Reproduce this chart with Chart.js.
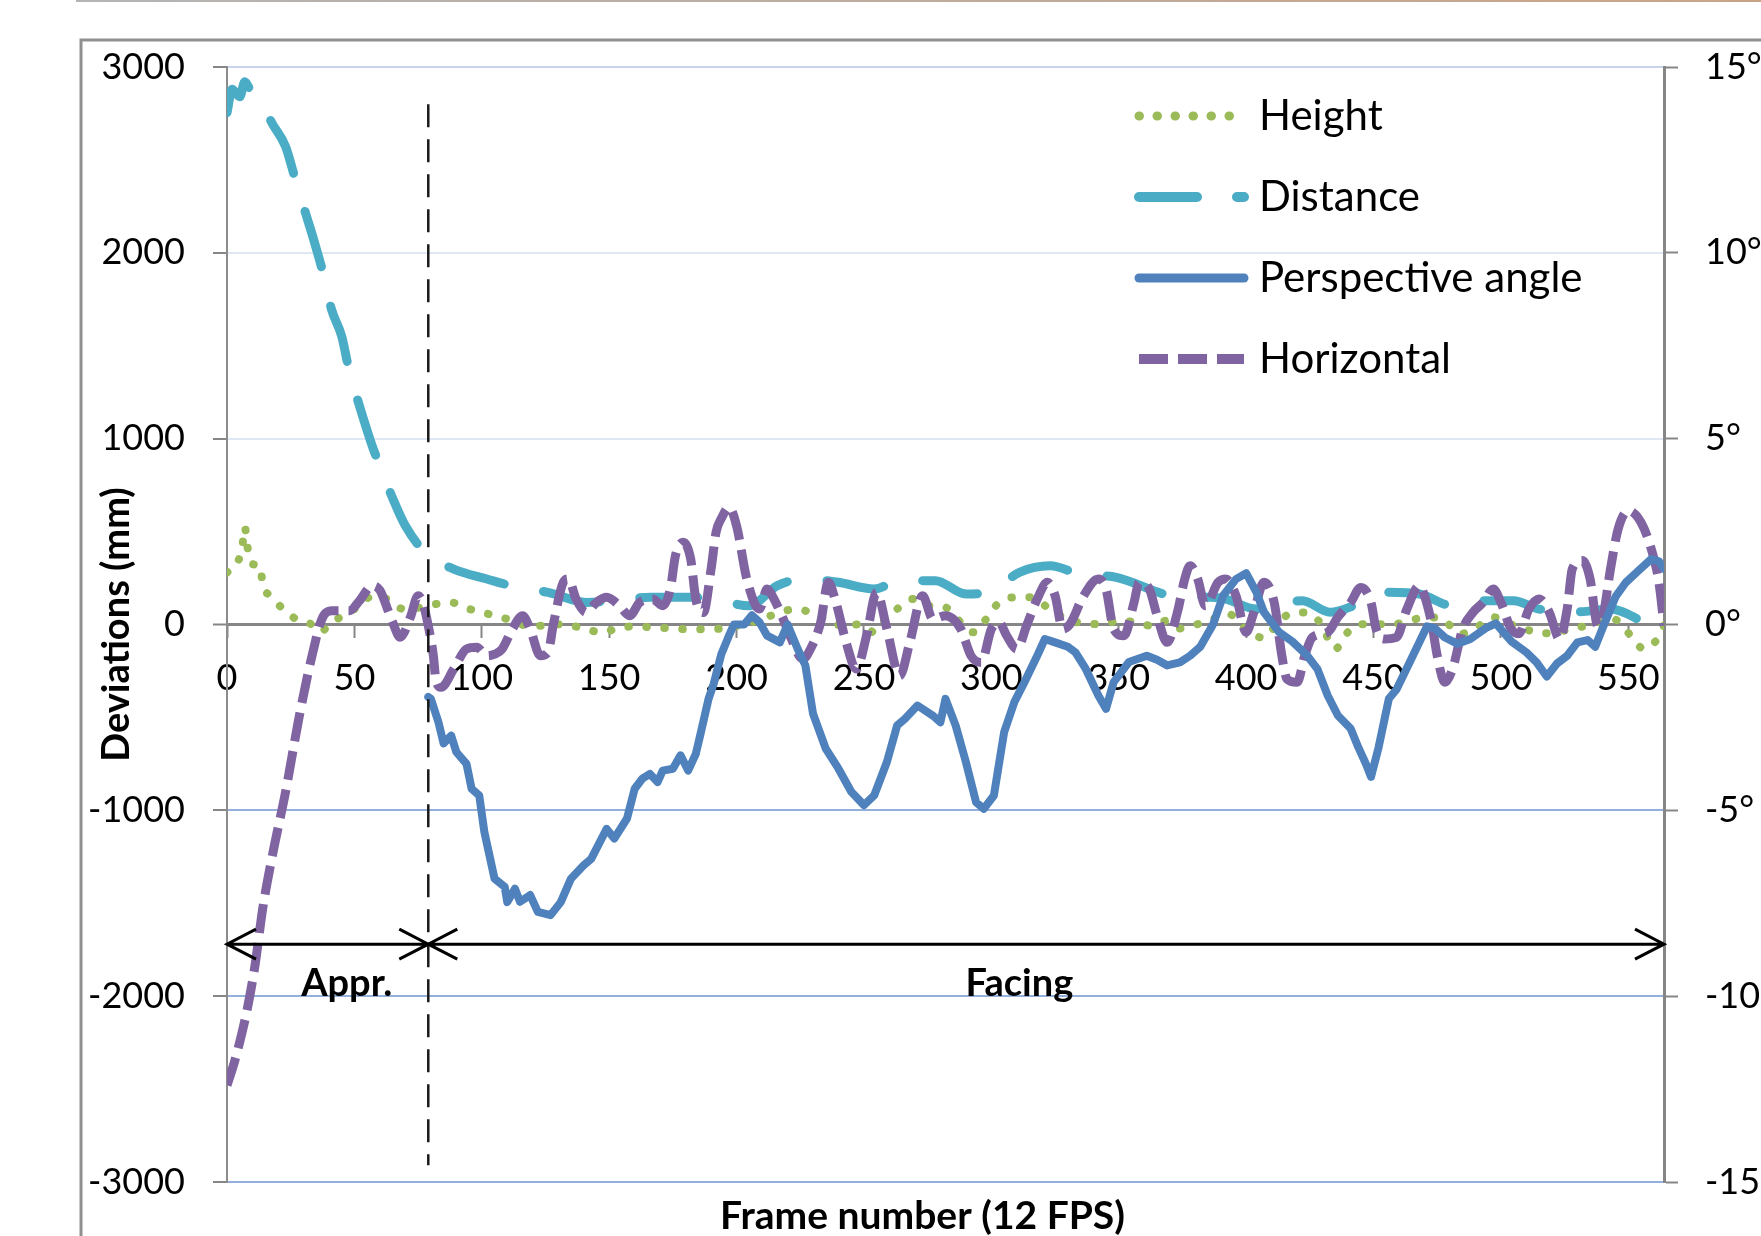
<!DOCTYPE html>
<html lang="en">
<head>
  <meta charset="UTF-8">
  <title>Deviations per frame</title>
  <style>
    * {
      margin: 0;
      padding: 0;
      box-sizing: border-box;
    }

    body {
      background: #fff;
      overflow: hidden;
    }

    #wrap {
      width: 1761px;
      height: 1236px;
    }
  </style>
  <script src="https://cdn.jsdelivr.net/npm/chart.js"></script>
</head>
<body>
  <div id="wrap">
    <canvas id="devChart" width="1761" height="1236"></canvas>
  </div>

  <script>
    // values (frame number -> value)
    const heightFrames = [0,4,6,7,8,10,13,14,17,22,27,33,37,40,46,52,56,63,69,76,82,88,93,99,105,112,118,124,131,137,142,148,154,161,167,174,180,187,192,203,212,218,224,230,236,242,249,254,258,263,269,275,282,288,293,298,303,309,316,322,328,334,344,350,357,363,369,374,381,387,393,401,407,412,417,423,429,435,440,445,458,464,471,477,484,490,497,504,513,516,523,528,534,544,551,556,561,564];
    const heightMm = [280,330,420,524,420,325,316,217,155,84,30,2,-40,2,50,101,146,137,84,92,110,119,92,69,48,21,-7,-7,2,-11,-30,-42,-15,-11,-15,-21,-25,-25,-24,2,40,70,83,57,20,-7,2,-42,20,83,137,101,92,11,-42,30,119,146,146,92,40,11,2,21,11,-7,21,-21,2,30,57,-40,-72,0,57,65,11,-131,-40,2,2,21,39,30,-51,-20,39,0,-39,-48,-39,-20,-7,30,-60,-131,-85,-7];

    const distFrames = [0,2,5,7,9,12,18,23,27,31,34,38,41,45,48,52,57,60,65,70,78,89,102,114,126,141,155,166,185,191,205,216,227,240,254,264,278,290,299,311,323,335,349,371,386,392,404,422,433,444,456,468,481,493,505,515,531,543,557];
    const distMm = [2754,2880,2840,2921,2880,2840,2690,2572,2385,2206,2072,1875,1696,1552,1364,1176,961,853,680,531,385,298,245,200,173,119,135,146,146,137,101,209,245,227,191,236,236,164,173,281,316,271,254,155,146,137,83,128,66,110,173,164,101,128,128,83,69,83,8];

    const perspFrames = [79,80,83,85,88,90,94,96,99,101,105,109,110,113,115,119,122,127,131,135,140,143,149,152,157,160,163,166,169,171,175,178,181,184,186,189,191,194,197,199,203,206,209,212,217,220,224,227,230,235,240,245,250,254,259,263,266,271,277,280,282,286,290,294,297,301,305,309,313,318,321,325,330,333,337,342,345,348,354,361,365,369,374,378,382,387,391,396,400,404,407,413,418,424,428,432,436,441,444,447,449,452,456,459,465,471,474,478,483,488,494,498,504,510,514,518,522,526,530,534,537,540,545,549,554,559,562,564];
    const perspDeg = [-1.95,-2.0,-2.63,-3.2,-2.99,-3.43,-3.75,-4.42,-4.6,-5.58,-6.84,-7.06,-7.47,-7.11,-7.46,-7.28,-7.73,-7.82,-7.47,-6.84,-6.48,-6.3,-5.5,-5.76,-5.22,-4.42,-4.15,-4.02,-4.24,-3.93,-3.88,-3.52,-3.93,-3.48,-2.9,-2.0,-1.6,-0.8,-0.3,0.0,0.0,0.25,0.06,-0.3,-0.48,0.0,-0.66,-1.1,-2.4,-3.34,-3.88,-4.5,-4.86,-4.6,-3.7,-2.72,-2.54,-2.18,-2.45,-2.63,-2.0,-2.72,-3.7,-4.78,-4.96,-4.6,-2.9,-2.09,-1.55,-0.84,-0.39,-0.48,-0.6,-0.75,-1.19,-1.91,-2.27,-1.55,-1.01,-0.84,-0.95,-1.1,-1.02,-0.84,-0.6,0.0,0.78,1.22,1.38,0.87,0.33,-0.21,-0.45,-0.84,-1.2,-1.91,-2.45,-2.8,-3.3,-3.75,-4.1,-3.3,-2.0,-1.75,-0.9,-0.05,-0.1,-0.35,-0.52,-0.39,-0.1,0.03,-0.45,-0.75,-1.02,-1.4,-1.05,-0.84,-0.48,-0.42,-0.6,-0.08,0.75,1.13,1.45,1.76,1.7,1.5];

    const horzFrames = [0,3,6,8,11,14,18,23,28,32,34,36,38,41,48,52,57,60,63,65,68,72,75,77,79,81,82,84,89,94,98,102,105,108,112,116,119,123,126,128,132,134,137,141,145,149,154,158,162,167,171,174,176,179,182,184,187,190,192,194,197,200,204,209,212,214,218,221,226,229,233,236,239,243,247,251,255,259,264,268,273,277,282,288,292,296,300,303,306,310,314,318,322,325,328,331,336,342,345,348,352,356,358,362,365,369,373,376,378,381,384,389,392,396,400,403,407,411,414,416,420,423,426,432,436,441,445,449,451,454,459,463,468,470,473,475,478,481,485,489,493,497,500,504,507,511,515,519,523,526,528,532,535,538,540,543,546,550,555,559,562,564];
    const horzMm = [-2480,-2350,-2190,-2066,-1834,-1530,-1230,-900,-520,-250,-132,-20,50,74,74,128,209,185,83,12,-69,40,155,110,-7,-168,-300,-338,-240,-132,-123,-168,-160,-132,-24,47,-24,-168,-150,-7,227,245,137,65,119,146,101,47,119,137,101,191,370,442,352,137,65,299,500,570,630,531,245,83,191,155,40,-61,-186,-132,12,227,119,-96,-240,-61,173,-24,-275,-96,155,30,47,-24,-168,-204,-24,12,-60,-132,0,137,227,155,-24,5,150,245,191,-24,-61,119,227,191,50,-96,65,250,316,245,101,227,245,155,-42,65,227,119,-167,-293,-311,-168,-69,-42,40,119,199,119,-24,-78,-69,80,209,155,-7,-168,-311,-240,-24,65,119,191,119,-24,-50,83,137,65,-78,83,299,344,245,-7,40,299,514,612,549,406,227,-7];

    // axis ticks
    const mmTicks = [-3000, -2000, -1000, 0, 1000, 2000, 3000];
    const degTicks = [-15, -10, -5, 0, 5, 10, 15];
    const frameTicks = [0, 50, 100, 150, 200, 250, 300, 350, 400, 450, 500, 550];
    const lastFrame = 564;

    // phase annotation (frames / mm)
    const phaseNames = ['Appr.', 'Facing'];
    const phaseBounds = [0, 79, lastFrame];
    const phaseLabelAt = [47, 311];
    const phaseLabelLevel = -2000;
    const arrowLevel = -1720;
    const dividerSpan = [2800, -2910];

    const legendOrder = ['Height', 'Distance', 'Perspective angle', 'Horizontal'];

    const pts = (xs, ys) => xs.map((f, i) => ({ x: f, y: ys[i] }));

    Chart.defaults.font.family = "Lato, 'Open Sans', sans-serif";
    Chart.defaults.color = '#000';

    const framePlugin = {
      id: 'frame',
      beforeDraw(chart) {
        const ctx = chart.ctx;
        ctx.save();
        ctx.fillStyle = '#fff';
        ctx.fillRect(0, 0, chart.width, chart.height);
        const g = ctx.createLinearGradient(76, 0, chart.width, 0);
        g.addColorStop(0, '#b4b4b4');
        g.addColorStop(1, '#c9a487');
        ctx.strokeStyle = g;
        ctx.lineWidth = 2;
        ctx.beginPath();
        ctx.moveTo(76, 1);
        ctx.lineTo(chart.width, 1);
        ctx.stroke();
        ctx.strokeStyle = '#8f8f8f';
        ctx.lineWidth = 3;
        ctx.strokeRect(81, 40, chart.width, chart.height);
        ctx.restore();
      }
    };

    const phasePlugin = {
      id: 'phases',
      afterDatasetsDraw(chart) {
        const { ctx, scales: { x, y } } = chart;
        ctx.save();
        const xd = x.getPixelForValue(phaseBounds[1]);
        ctx.strokeStyle = '#1a1a1a';
        ctx.lineWidth = 2.5;
        ctx.setLineDash([23, 12]);
        ctx.beginPath();
        ctx.moveTo(xd, y.getPixelForValue(dividerSpan[0]));
        ctx.lineTo(xd, y.getPixelForValue(dividerSpan[1]));
        ctx.stroke();

        ctx.setLineDash([]);
        ctx.strokeStyle = '#000';
        ctx.lineWidth = 3;
        ctx.font = 'bold 38px Lato';
        ctx.fillStyle = '#000';
        ctx.textAlign = 'center';
        ctx.textBaseline = 'alphabetic';
        const ya = y.getPixelForValue(arrowLevel);
        for (let i = 0; i < phaseNames.length; i++) {
          const x0 = x.getPixelForValue(phaseBounds[i]);
          const x1 = x.getPixelForValue(phaseBounds[i + 1]);
          ctx.beginPath();
          ctx.moveTo(x0, ya);
          ctx.lineTo(x1, ya);
          ctx.moveTo(x0 + 29, ya - 15);
          ctx.lineTo(x0, ya);
          ctx.lineTo(x0 + 29, ya + 15);
          ctx.moveTo(x1 - 29, ya - 15);
          ctx.lineTo(x1, ya);
          ctx.lineTo(x1 - 29, ya + 15);
          ctx.stroke();
          ctx.fillText(phaseNames[i], x.getPixelForValue(phaseLabelAt[i]), y.getPixelForValue(phaseLabelLevel));
        }
        ctx.restore();
      }
    };

    // legend sits inside the plot, top right
    const legendPlugin = {
      id: 'insideLegend',
      afterDraw(chart) {
        const ctx = chart.ctx;
        ctx.save();
        ctx.font = '42px Lato';
        ctx.fillStyle = '#000';
        ctx.textAlign = 'left';
        ctx.textBaseline = 'middle';
        legendOrder.forEach((name, i) => {
          const ds = chart.data.datasets.find(d => d.label === name);
          const ly = 116 + i * 81;
          ctx.strokeStyle = ds.borderColor;
          ctx.lineWidth = ds.borderWidth + 1;
          ctx.lineCap = ds.borderCapStyle;
          ctx.setLineDash(ds.borderDash || []);
          ctx.beginPath();
          ctx.moveTo(1139, ly);
          ctx.lineTo(1244, ly);
          ctx.stroke();
          ctx.fillText(name, 1259, ly);
        });
        ctx.restore();
      }
    };

    const ctx = document.getElementById('devChart').getContext('2d');
    new Chart(ctx, {
      type: 'line',
      data: {
        datasets: [
          {
            label: 'Height',
            data: pts(heightFrames, heightMm),
            yAxisID: 'y',
            borderColor: '#9BBB59',
            borderWidth: 8,
            borderDash: [0.5, 17.5],
            borderCapStyle: 'round',
            cubicInterpolationMode: 'monotone',
            pointRadius: 0,
            order: 3
          },
          {
            label: 'Distance',
            data: pts(distFrames, distMm),
            yAxisID: 'y',
            borderColor: '#4BACC6',
            borderWidth: 9,
            borderDash: [58, 40],
            borderCapStyle: 'round',
            cubicInterpolationMode: 'monotone',
            pointRadius: 0,
            order: 2
          },
          {
            label: 'Perspective angle',
            data: pts(perspFrames, perspDeg),
            yAxisID: 'y1',
            borderColor: '#4F81BD',
            borderWidth: 8,
            borderCapStyle: 'round',
            borderJoinStyle: 'round',
            tension: 0,
            pointRadius: 0,
            order: 0
          },
          {
            label: 'Horizontal',
            data: pts(horzFrames, horzMm),
            yAxisID: 'y',
            borderColor: '#8064A2',
            borderWidth: 9,
            borderDash: [29, 10],
            borderCapStyle: 'butt',
            cubicInterpolationMode: 'monotone',
            pointRadius: 0,
            order: 1
          }
        ]
      },
      options: {
        responsive: false,
        animation: false,
        devicePixelRatio: 1,
        layout: {
          padding: { left: 84, top: 67, right: 0, bottom: 0 }
        },
        plugins: {
          legend: { display: false },
          tooltip: { enabled: false },
          title: {
            display: true,
            position: 'bottom',
            text: 'Frame number (12 FPS)',
            color: '#000',
            font: { size: 39, weight: 'bold', lineHeight: 1 },
            padding: { top: 15, bottom: 0 }
          }
        },
        scales: {
          x: {
            type: 'linear',
            min: 0,
            max: lastFrame,
            position: { y: 0 },
            afterBuildTicks: s => { s.ticks = frameTicks.map(v => ({ value: v })); },
            ticks: {
              autoSkip: false,
              maxRotation: 0,
              padding: 20,
              font: { size: 36 },
              callback: v => v
            },
            grid: {
              drawOnChartArea: false,
              tickLength: 12,
              tickColor: '#868686',
              tickWidth: 2
            },
            border: { color: '#868686', width: 3 }
          },
          y: {
            position: 'left',
            min: mmTicks[0],
            max: mmTicks[mmTicks.length - 1],
            afterBuildTicks: s => { s.ticks = mmTicks.map(v => ({ value: v })); },
            afterFit: s => { s.width = 143; },
            ticks: {
              padding: 28,
              font: { size: 36 },
              callback: v => v
            },
            grid: {
              color: c => {
                const v = c.tick.value;
                if (v === 0) return '#868686';
                if (v === 3000) return '#c8d4ee';
                return v > 0 ? '#dfe6f4' : '#93afdc';
              },
              lineWidth: c => (c.tick.value === 0 ? 3 : 2),
              tickLength: 14,
              tickColor: '#868686',
              tickWidth: 2
            },
            border: { color: '#8c8c8c', width: 2 },
            title: {
              display: true,
              text: 'Deviations (mm)',
              color: '#000',
              font: { size: 38, weight: 'bold' },
              padding: { top: 10, bottom: 0 }
            }
          },
          y1: {
            position: 'right',
            min: degTicks[0],
            max: degTicks[degTicks.length - 1],
            afterBuildTicks: s => { s.ticks = degTicks.map(v => ({ value: v })); },
            afterFit: s => { s.width = 97; },
            ticks: {
              padding: 27,
              font: { size: 36 },
              callback: v => v + '°'
            },
            grid: {
              drawOnChartArea: false,
              tickLength: 14,
              tickColor: '#868686',
              tickWidth: 2
            },
            border: { color: '#868686', width: 3 }
          }
        }
      },
      plugins: [framePlugin, phasePlugin, legendPlugin]
    });
  </script>
</body>
</html>
